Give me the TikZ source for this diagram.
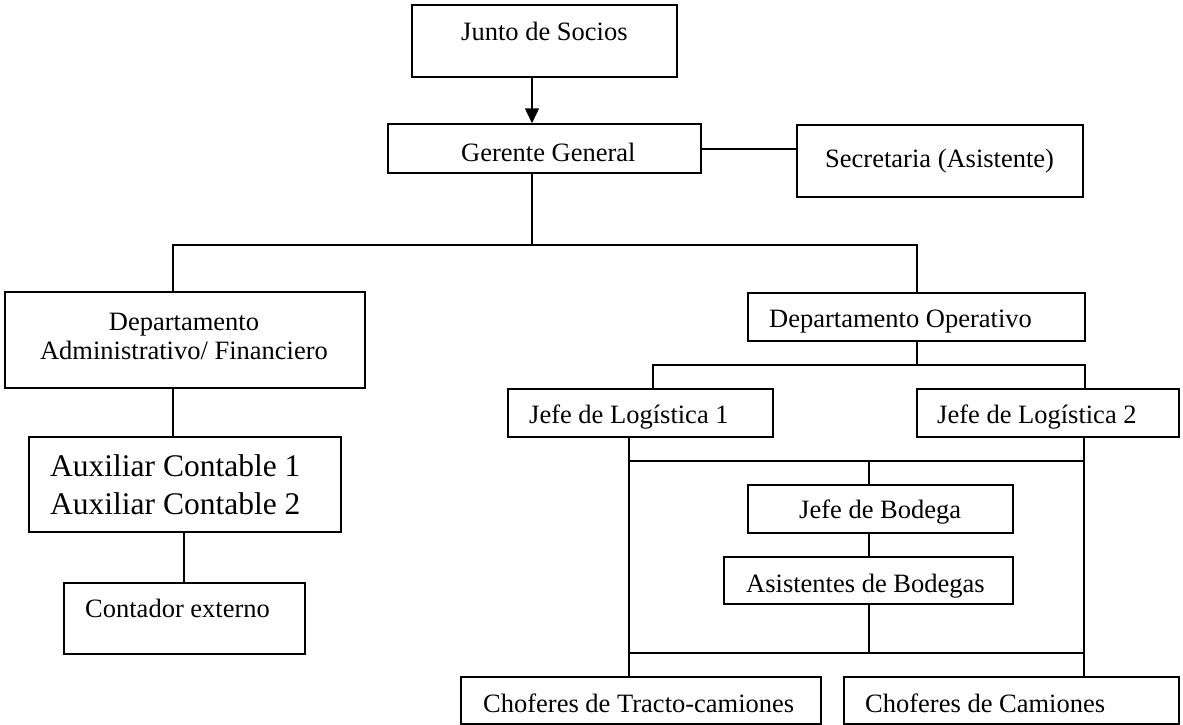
\documentclass[tikz,border=0pt]{standalone}
\usepackage{fontspec}
\setmainfont{Liberation Serif}
\usetikzlibrary{arrows.meta}
\begin{document}
\begin{tikzpicture}[x=1pt,y=-1pt,
  box/.style={draw, line width=1.5pt, inner sep=0pt},
  txt/.style={anchor=base west, inner sep=0pt, font=\fontsize{26.5}{30}\selectfont},
  bigtxt/.style={anchor=base west, inner sep=0pt, align=left, font=\fontsize{31.5}{38}\selectfont},
  conn/.style={line width=1.5pt}]
\useasboundingbox (0,0) rectangle (1183,725);

% boxes
\node[box, minimum width=265pt, minimum height=72pt] (socios)   at (544.5,41) {};
\node[box, minimum width=313pt, minimum height=49pt] (gerente)  at (544.5,148.5) {};
\node[box, minimum width=286pt, minimum height=72pt] (secret)   at (940,161) {};
\node[box, minimum width=360pt, minimum height=96pt] (admin)    at (185,340) {};
\node[box, minimum width=312pt, minimum height=95pt] (aux)      at (185,484.5) {};
\node[box, minimum width=241pt, minimum height=71pt] (contador) at (184.5,618.5) {};
\node[box, minimum width=337pt, minimum height=48pt] (operativo) at (916.5,317) {};
\node[box, minimum width=265pt, minimum height=48pt] (log1)     at (640.5,413) {};
\node[box, minimum width=262pt, minimum height=48pt] (log2)     at (1048,413) {};
\node[box, minimum width=265pt, minimum height=48pt] (bodega)   at (880.5,509) {};
\node[box, minimum width=289pt, minimum height=47pt] (asist)    at (868.5,580.5) {};
\node[box, minimum width=360pt, minimum height=47pt] (tracto)   at (641,700.5) {};
\node[box, minimum width=335pt, minimum height=47pt] (camiones) at (1011.5,700.5) {};

% texts
\node[txt] (tsocios) at (461,41) {Junto de Socios};
\node[txt] (tgerente) at (461,161) {Gerente General};
\node[txt] (tsecret) at (825,167) {Secretaria (Asistente)};
\node[inner sep=0pt, align=center, font=\fontsize{26.5}{29}\selectfont] (tadmin) at (184,336) {Departamento\\Administrativo/ Financiero};
\node[bigtxt] (taux) at (50,514) {Auxiliar Contable 1\\Auxiliar Contable 2};
\node[txt] (tcontador) at (85,617) {Contador externo};
\node[txt] (toperativo) at (769,327) {Departamento Operativo};
\node[txt] (tlog1) at (529,423) {Jefe de Logística 1};
\node[txt] (tlog2) at (937,423) {Jefe de Logística 2};
\node[txt] (tbodega) at (799,518) {Jefe de Bodega};
\node[txt] (tasist) at (746,592) {Asistentes de Bodegas};
\node[txt] (ttracto) at (483,712) {Choferes de Tracto-camiones};
\node[txt] (tcamiones) at (865,712) {Choferes de Camiones};

% helper coordinates
\coordinate (xa) at (532,0);
\coordinate (ys) at (0,149);
\coordinate (bus1) at (0,245);
\coordinate (xadm) at (173,0);
\coordinate (xop) at (917,0);
\coordinate (xc) at (184,0);
\coordinate (bus2) at (0,365);
\coordinate (xl1) at (653,0);
\coordinate (xl2) at (1085,0);
\coordinate (bus3) at (0,461);
\coordinate (bus4) at (0,653);
\coordinate (xv1) at (629,0);
\coordinate (xv2) at (1084,0);
\coordinate (xb) at (869,0);

% connectors
\draw[conn, -{Triangle[length=15pt,width=14pt]}] (socios.south -| xa) -- (gerente.north -| xa);
\draw[conn] (gerente.east |- ys) -- (secret.west |- ys);
\draw[conn] (gerente.south -| xa) -- (xa |- bus1);
\draw[conn] (admin.north -| xadm) -- (xadm |- bus1) -- (xop |- bus1) -- (operativo.north -| xop);
\draw[conn] (admin.south -| xadm) -- (aux.north -| xadm);
\draw[conn] (aux.south -| xc) -- (contador.north -| xc);
\draw[conn] (operativo.south -| xop) -- (xop |- bus2);
\draw[conn] (log1.north -| xl1) -- (xl1 |- bus2) -- (xl2 |- bus2) -- (log2.north -| xl2);
\draw[conn] (log1.south -| xv1) -- (tracto.north -| xv1);
\draw[conn] (log2.south -| xv2) -- (camiones.north -| xv2);
\draw[conn] (xv1 |- bus3) -- (xv2 |- bus3);
\draw[conn] (bodega.north -| xb) -- (xb |- bus3);
\draw[conn] (bodega.south -| xb) -- (asist.north -| xb);
\draw[conn] (asist.south -| xb) -- (xb |- bus4);
\draw[conn] (xv1 |- bus4) -- (xv2 |- bus4);
\end{tikzpicture}
\end{document}
